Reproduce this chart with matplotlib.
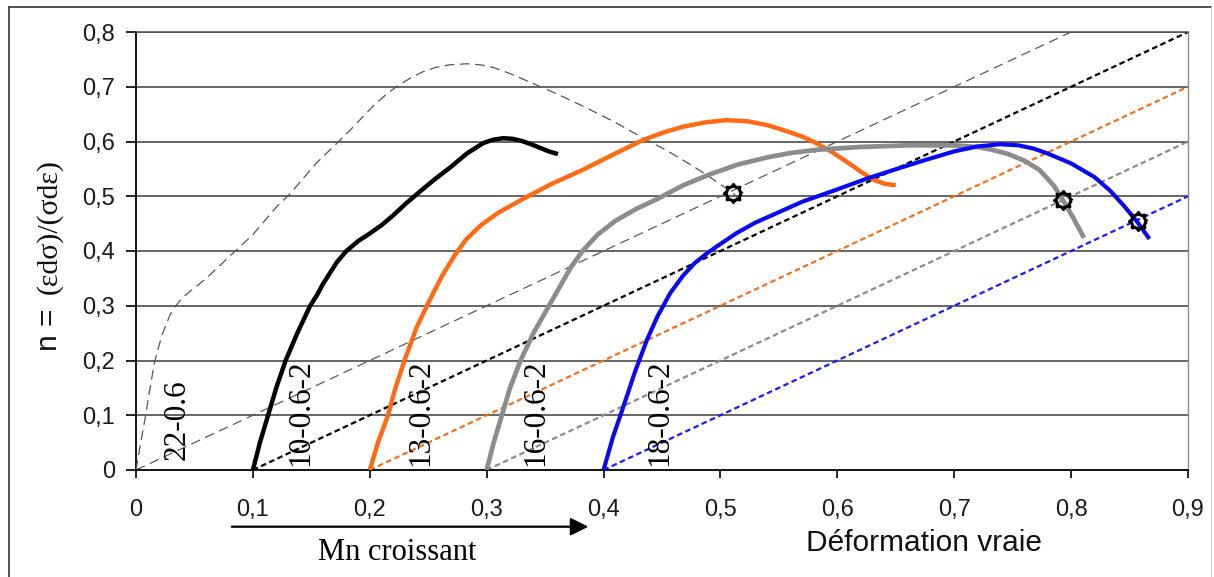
import numpy as np
import matplotlib
matplotlib.use("Agg")
import matplotlib.pyplot as plt
from matplotlib.lines import Line2D

plt.rcParams["lines.scale_dashes"] = False

# --- data ---
x_22 = [0, 0.004, 0.008, 0.012, 0.016, 0.022, 0.029, 0.034, 0.04, 0.046, 0.052, 0.06,
        0.069, 0.078, 0.085, 0.092, 0.1, 0.11, 0.12, 0.132, 0.144, 0.155, 0.172, 0.186,
        0.203, 0.214, 0.224, 0.235, 0.245, 0.256, 0.268, 0.283, 0.295, 0.306, 0.32,
        0.343, 0.363, 0.383, 0.41, 0.434, 0.452, 0.468, 0.484, 0.497, 0.511, 0.519]
y_22 = [0, 0.05, 0.097, 0.15, 0.198, 0.245, 0.283, 0.3, 0.315, 0.326, 0.336, 0.35,
        0.368, 0.386, 0.40, 0.414, 0.43, 0.455, 0.48, 0.505, 0.535, 0.562, 0.597, 0.627,
        0.665, 0.686, 0.702, 0.716, 0.727, 0.735, 0.74, 0.742, 0.74, 0.735, 0.724,
        0.703, 0.684, 0.664, 0.635, 0.606, 0.586, 0.566, 0.545, 0.526, 0.506, 0.484]

x_10 = [0.1, 0.106, 0.113, 0.12, 0.128, 0.138, 0.149, 0.155, 0.16, 0.166, 0.172, 0.18,
        0.19, 0.2, 0.21, 0.22, 0.23, 0.242, 0.255, 0.269, 0.283, 0.297, 0.305, 0.314,
        0.322, 0.33, 0.338, 0.345, 0.353, 0.361]
y_10 = [0, 0.05, 0.1, 0.15, 0.2, 0.25, 0.3, 0.32, 0.34, 0.36, 0.38, 0.40,
        0.418, 0.432, 0.447, 0.465, 0.485, 0.507, 0.53, 0.553, 0.578, 0.597, 0.603, 0.606,
        0.605, 0.601, 0.595, 0.589, 0.582, 0.577]

x_13 = [0.2, 0.207, 0.2156, 0.222, 0.2297, 0.24, 0.25, 0.262, 0.272, 0.282, 0.295, 0.31,
        0.331, 0.355, 0.382, 0.41, 0.434, 0.452, 0.468, 0.487, 0.505, 0.523, 0.54, 0.555,
        0.57, 0.583, 0.596, 0.608, 0.62, 0.631, 0.64, 0.65]
y_13 = [0, 0.05, 0.1, 0.15, 0.2, 0.26, 0.305, 0.355, 0.39, 0.42, 0.447, 0.47,
        0.495, 0.522, 0.548, 0.578, 0.603, 0.617, 0.627, 0.635, 0.639, 0.637, 0.63, 0.62,
        0.609, 0.596, 0.58, 0.563, 0.545, 0.53, 0.523, 0.52]

x_16 = [0.3, 0.306, 0.313, 0.32, 0.329, 0.34, 0.348, 0.356, 0.364, 0.372, 0.382, 0.395,
        0.41, 0.428, 0.446, 0.468, 0.491, 0.515, 0.54, 0.56, 0.583, 0.62, 0.66, 0.70,
        0.72, 0.732, 0.745, 0.76, 0.773, 0.785, 0.793, 0.802, 0.811]
y_16 = [0, 0.05, 0.1, 0.15, 0.2, 0.25, 0.28, 0.31, 0.34, 0.37, 0.40, 0.43,
        0.455, 0.477, 0.495, 0.52, 0.54, 0.558, 0.571, 0.579, 0.585, 0.59, 0.593, 0.593,
        0.59, 0.585, 0.578, 0.565, 0.548, 0.52, 0.493, 0.46, 0.424]

x_18 = [0.4, 0.408, 0.417, 0.427, 0.437, 0.446, 0.457, 0.468, 0.478, 0.488, 0.498, 0.514,
        0.53, 0.548, 0.57, 0.598, 0.625, 0.648, 0.675, 0.70, 0.72, 0.739, 0.755, 0.768,
        0.78, 0.80, 0.82, 0.833, 0.845, 0.857, 0.867]
y_18 = [0, 0.06, 0.116, 0.18, 0.237, 0.28, 0.323, 0.355, 0.378, 0.395, 0.41, 0.433,
        0.452, 0.469, 0.49, 0.511, 0.532, 0.548, 0.566, 0.582, 0.591, 0.595, 0.593, 0.587,
        0.578, 0.56, 0.535, 0.511, 0.483, 0.452, 0.422]

# construction lines n = eps - eps0
line_starts = [0, 0.1, 0.2, 0.3, 0.4]
line_slope = 1.0

mark_x = [0.511, 0.793, 0.857]
mark_y = [0.506, 0.493, 0.454]

labels = ["22-0.6", "10-0.6-2", "13-0.6-2", "16-0.6-2", "18-0.6-2"]
label_x = [0.0355, 0.141, 0.244, 0.342, 0.448]
label_y = [0.018, 0.008, 0.008, 0.008, 0.008]

xticks = [0, 0.1, 0.2, 0.3, 0.4, 0.5, 0.6, 0.7, 0.8, 0.9]
xtick_labels = ["0", "0,1", "0,2", "0,3", "0,4", "0,5", "0,6", "0,7", "0,8", "0,9"]
yticks = [0, 0.1, 0.2, 0.3, 0.4, 0.5, 0.6, 0.7, 0.8]
ytick_labels = ["0", "0,1", "0,2", "0,3", "0,4", "0,5", "0,6", "0,7", "0,8"]

W, H = 1214, 577
fig = plt.figure(figsize=(W / 100, H / 100), dpi=100)
ax = fig.add_axes([136 / W, 1 - 470 / H, (1188 - 136) / W, (470 - 32) / H])
ax.set_xlim(0, 0.9)
ax.set_ylim(0, 0.8)

# horizontal grid
for yv in yticks[1:]:
    ax.axhline(yv, color="#3c3c3c", lw=1.1, zorder=1)

# dashed construction lines
line_cols = ["#5a5a5a", "black", "#f07020", "#8c8c8c", "#1a1aff"]
for x0, c in zip(line_starts, line_cols):
    xe = min(0.9, x0 + 0.8 / line_slope)
    if x0 == 0:
        ax.plot([x0, xe], [0, (xe - x0) * line_slope], color=c, lw=0.9,
                linestyle=(0, (7, 4)), zorder=2)
    else:
        ax.plot([x0, xe], [0, (xe - x0) * line_slope], color=c, lw=1.6,
                linestyle=(0, (4, 2.5)), zorder=2)

# curves
kw = dict(solid_capstyle="butt", solid_joinstyle="round", zorder=4)
ax.plot(x_22, y_22, color="#555555", lw=0.9, linestyle=(0, (7, 4)), zorder=3)
ax.plot(x_10, y_10, color="black", lw=3.2, **kw)
ax.plot(x_13, y_13, color="#ff6a14", lw=3.2, **kw)
ax.plot(x_16, y_16, color="#8c8c8c", lw=3.4, **kw)
ax.plot(x_18, y_18, color="#0a0af0", lw=3.0, **kw)

# gear-like open marker
ang = np.linspace(0, 2 * np.pi, 97)[:-1]
d = np.abs(((np.degrees(ang) + 22.5) % 45) - 22.5)
rad = 0.78 + 0.24 * np.clip(1 - d / 11.0, 0, 1)
gear = np.column_stack([rad * np.cos(ang), rad * np.sin(ang)])
ax.plot(mark_x, mark_y, linestyle="none", marker=gear, markersize=13,
        markerfacecolor="none", markeredgecolor="black", markeredgewidth=2.2, zorder=6)

# rotated sample labels
for t, lx, ly in zip(labels, label_x, label_y):
    ax.text(lx, ly, t, rotation=90, ha="center", va="bottom",
            family="Liberation Serif", fontsize=22.5, zorder=7)

# axes styling
ax.set_xticks(xticks)
ax.set_xticklabels(xtick_labels)
ax.set_yticks(yticks)
ax.set_yticklabels(ytick_labels)
ax.tick_params(axis="x", direction="out", length=6, width=1.2, pad=15,
               labelsize=17, labelcolor="#1a1a1a")
ax.tick_params(axis="y", direction="out", length=7, width=1.2, pad=8,
               labelsize=17, labelcolor="#1a1a1a")
for lab in ax.get_xticklabels() + ax.get_yticklabels():
    lab.set_family("Liberation Sans")
ax.spines["left"].set_color("black")
ax.spines["left"].set_linewidth(1.3)
ax.spines["bottom"].set_color("black")
ax.spines["bottom"].set_linewidth(1.3)
ax.spines["top"].set_color("#505050")
ax.spines["top"].set_linewidth(1.1)
ax.spines["right"].set_color("#8a8a8a")
ax.spines["right"].set_linewidth(1.0)

# axis titles
fig.text(924 / W, 1 - 543 / H, "Déformation vraie", ha="center", va="center",
         family="Liberation Sans", fontsize=21.5, color="#111111")
fig.text(49 / W, 1 - 351 / H, "n =", rotation=90, ha="center", va="bottom",
         family="Liberation Sans", fontsize=21.5, color="#111111")
fig.text(49 / W, 1 - 294 / H, "(εdσ)/(σdε)", rotation=90, ha="center", va="bottom",
         family="Liberation Serif", fontsize=21.5, color="#111111")

# Mn arrow
ax.annotate("", xy=(0.387, 1 - 526.7 / H), xytext=(0.082, 1 - 526.7 / H),
            xycoords=("data", "figure fraction"), textcoords=("data", "figure fraction"),
            annotation_clip=False,
            arrowprops=dict(arrowstyle="-|>,head_length=0.4,head_width=0.2",
                            mutation_scale=27, lw=1.6, color="black",
                            shrinkA=0, shrinkB=0))
fig.text(397 / W, 1 - 553 / H, "Mn croissant", ha="center", va="center",
         family="Liberation Serif", fontsize=22, color="black")

# outer frame
fig.add_artist(Line2D([8.5 / W, 8.5 / W], [0, 1 - 7 / H], color="#333333", lw=1.2))
fig.add_artist(Line2D([8.5 / W, 1211 / W], [1 - 7 / H, 1 - 7 / H], color="#333333", lw=1.2))
fig.add_artist(Line2D([1211 / W, 1211 / W], [0, 1 - 7 / H], color="#cccccc", lw=0.8))

fig.savefig("out.png", dpi=100)
